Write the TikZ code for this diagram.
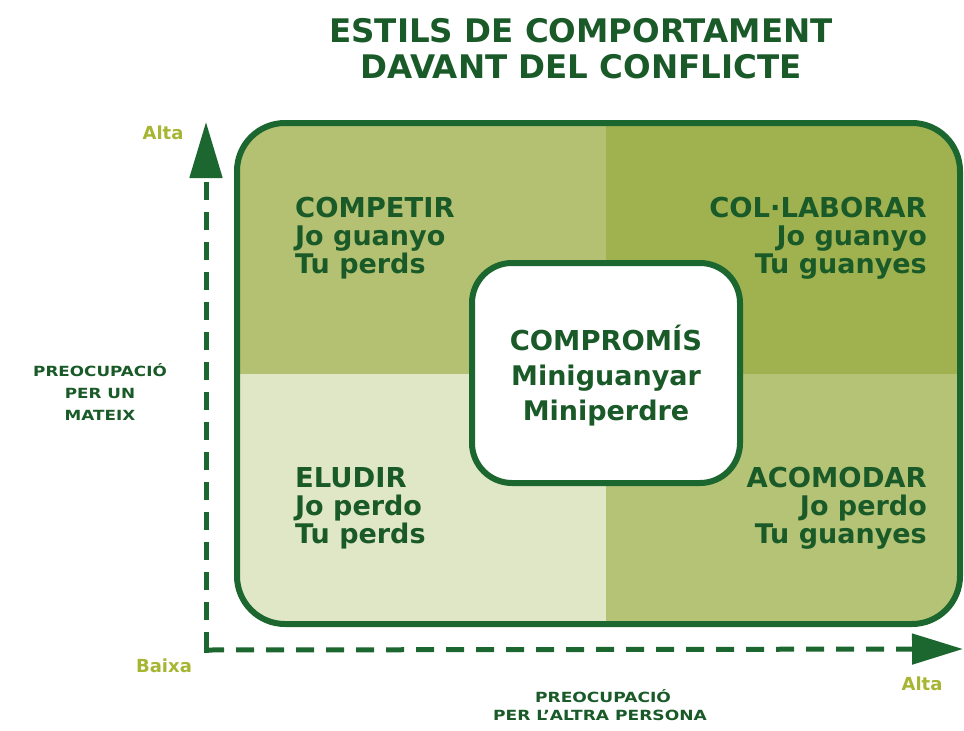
\documentclass[tikz,border=0pt]{standalone}
\usepackage{fontspec}
\setmainfont{DejaVu Sans}
\usepackage{graphicx}
\usetikzlibrary{arrows.meta}
\definecolor{dkgreen}{RGB}{28,102,48}
\definecolor{txtgreen}{RGB}{25,90,40}
\definecolor{limegreen}{RGB}{166,181,50}
\definecolor{qtl}{RGB}{180,193,114}
\definecolor{qtr}{RGB}{160,178,80}
\definecolor{qbl}{RGB}{224,231,198}
\definecolor{qbr}{RGB}{181,195,118}
\tikzset{
  head/.style={inner sep=0pt, text=txtgreen, font=\fontsize{27.4}{28}\selectfont\bfseries},
  sub/.style={inner sep=0pt, text=txtgreen, font=\fontsize{27}{28}\selectfont\bfseries},
  titletext/.style={inner sep=0pt, text=txtgreen, font=\fontsize{32.5}{36}\selectfont\bfseries},
  axlbl/.style={inner sep=0pt, text=txtgreen, font=\fontsize{14}{16}\selectfont\bfseries},
  endlbl/.style={inner sep=0pt, text=limegreen, font=\fontsize{18}{20}\selectfont\bfseries},
  axisline/.style={draw=dkgreen, line width=5pt, dash pattern=on 18pt off 12pt},
}
\begin{document}
\begin{tikzpicture}[x=1pt,y=-1pt]
\useasboundingbox (0,0) rectangle (964,731);
% title
\node[titletext, anchor=base] (t1) at (581,42) {ESTILS DE COMPORTAMENT};
\node[titletext, anchor=base] (t2) at (581,78) {DAVANT DEL CONFLICTE};
% quadrants
\begin{scope}
\clip[rounded corners=48pt] (237,123) rectangle (960,624);
\fill[qtl] (237,123) rectangle (606,374);
\fill[qtr] (606,123) rectangle (960,374);
\fill[qbl] (237,374) rectangle (606,624);
\fill[qbr] (606,374) rectangle (960,624);
\end{scope}
\draw[dkgreen, line width=6pt, rounded corners=48pt] (237,123) rectangle (960,624);
% centre box
\node[draw=dkgreen, line width=6pt, fill=white, rounded corners=40pt,
      minimum width=268pt, minimum height=220pt, inner sep=0pt] (compbox) at (606,373) {};
\node[head, anchor=base] (c1) at (606,350) {COMPROMÍS};
\node[sub, anchor=base] (c2) at (606,385) {Miniguanyar};
\node[sub, anchor=base] (c3) at (606,420) {Miniperdre};
% quadrant texts
\node[head, anchor=base west] (q1a) at (295,217) {COMPETIR};
\node[sub, anchor=base west] (q1b) at (295,245) {Jo guanyo};
\node[sub, anchor=base west] (q1c) at (295,273) {Tu perds};
\node[head, anchor=base east] (q2a) at (927,217) {COL·LABORAR};
\node[sub, anchor=base east] (q2b) at (927,245) {Jo guanyo};
\node[sub, anchor=base east] (q2c) at (927,273) {Tu guanyes};
\node[head, anchor=base west] (q3a) at (295,487) {ELUDIR};
\node[sub, anchor=base west] (q3b) at (295,515) {Jo perdo};
\node[sub, anchor=base west] (q3c) at (295,543) {Tu perds};
\node[head, anchor=base east] (q4a) at (927,487) {ACOMODAR};
\node[sub, anchor=base east] (q4b) at (927,515) {Jo perdo};
\node[sub, anchor=base east] (q4c) at (927,543) {Tu guanyes};
% axes
\coordinate (origin) at (206,650);
\coordinate (ytip) at (206,122);
\coordinate (xtip) at (963,649);
\draw[axisline, -{Triangle[length=56pt,width=32pt]}] (origin) -- (ytip);
\draw[axisline, -{Triangle[length=51pt,width=30pt]}] (origin) -- (xtip);
\fill[dkgreen] (203.5,647.5) rectangle (208.5,652.5);
% axis labels
\node[endlbl, anchor=base] (ytop) at (163,139) {Alta};
\node[endlbl, anchor=base] (xlow) at (164,672) {Baixa};
\node[endlbl, anchor=base] (xtop) at (922,690) {Alta};
\node[axlbl, anchor=base] (yl1) at (100,376) {\scalebox{1.2}[1]{PREOCUPACIÓ}};
\node[axlbl, anchor=base] (yl2) at (100,398) {\scalebox{1.2}[1]{PER UN}};
\node[axlbl, anchor=base] (yl3) at (100,420) {\scalebox{1.2}[1]{MATEIX}};
\node[axlbl, anchor=base] (xl1) at (603,702) {\scalebox{1.22}[1]{PREOCUPACIÓ}};
\node[axlbl, anchor=base] (xl2) at (600,720) {\scalebox{1.22}[1]{PER L'ALTRA PERSONA}};
\end{tikzpicture}
\end{document}
